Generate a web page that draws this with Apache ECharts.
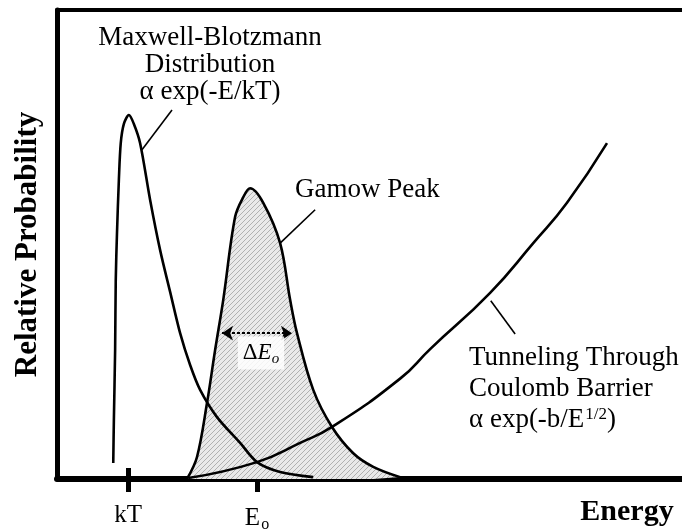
<!DOCTYPE html>
<html>
<head>
<meta charset="utf-8">
<script src="https://cdn.jsdelivr.net/npm/echarts@6/dist/echarts.min.js"></script>
<style>
  html, body { margin: 0; padding: 0; background: #fff; }
  #gamow { width: 682px; height: 532px; }
</style>
</head>
<body>
<div id="gamow"></div>
<script>
  // energy (arbitrary units 0-100) and relative probability (0-100)
  const mbEnergy = [9.0, 9.1, 9.3, 9.4, 9.6, 9.9, 10.2, 10.7, 11.5, 12.3, 13.3, 14.9, 16.5, 18.1, 19.7, 21.3, 22.9, 25.6, 29.3, 32.0, 35.7, 41.0];
  const mbProb = [3.4, 12.6, 27.5, 42.4, 52.5, 63.8, 71.6, 75.7, 77.6, 75.7, 71.6, 59.5, 48.8, 39.9, 31.1, 24.3, 19.0, 13.2, 7.7, 3.6, 1.5, 0.4];

  const gamowEnergy = [20.8, 22.4, 24.0, 25.3, 26.6, 28.5, 29.8, 30.9, 33.0, 35.7, 37.3, 38.4, 41.0, 44.0, 47.4, 50.6, 54.9];
  const gamowProb = [0, 4.7, 16.2, 27.5, 38.2, 55.9, 60.1, 62.0, 58.9, 50.3, 38.2, 31.1, 19.0, 11.1, 5.5, 2.6, 0.4];

  const tunnelEnergy = [21.0, 32.0, 38.9, 44.0, 54.9, 59.7, 69.3, 76.2, 81.6, 88.0];
  const tunnelProb = [0.2, 3.6, 7.7, 11.1, 21.4, 27.7, 39.7, 50.3, 58.9, 71.6];

  const tickValues = [11.4, 32.0];
  const tickLabels = ['kT', '{e|E}{o|o}'];

  const serif = '"Liberation Serif", "DejaVu Serif", serif';

  function zip(xs, ys) {
    return xs.map((x, i) => [x, ys[i]]);
  }

  // light hatched fill for the gamow peak
  const pat = document.createElement('canvas');
  pat.width = 5;
  pat.height = 5;
  const pctx = pat.getContext('2d');
  pctx.fillStyle = '#e9e9e9';
  pctx.fillRect(0, 0, 5, 5);
  pctx.strokeStyle = '#b0b0b0';
  pctx.lineWidth = 1;
  pctx.beginPath();
  pctx.moveTo(0, 5);
  pctx.lineTo(5, 0);
  pctx.stroke();

  const chart = echarts.init(document.getElementById('gamow'));

  const curveLine = { color: '#000', width: 2.6 };

  chart.setOption({
    animation: false,
    grid: { left: 57, right: 0, top: 10, bottom: 53, outerBoundsMode: 'none' },
    xAxis: [
      {
        type: 'value',
        min: 0,
        max: 100,
        position: 'bottom',
        axisLine: { onZero: false, lineStyle: { color: '#000', width: 6 } },
        axisTick: { customValues: tickValues, length: 13, lineStyle: { color: '#000', width: 5 } },
        axisLabel: {
          customValues: tickValues,
          margin: 24,
          color: '#000',
          fontFamily: serif,
          fontSize: 25,
          formatter: v => tickLabels[tickValues.indexOf(v)],
          rich: {
            e: { fontFamily: serif, fontSize: 25, color: '#000' },
            o: { fontFamily: serif, fontSize: 16, color: '#000', padding: [14, 0, 0, 1] }
          }
        },
        splitLine: { show: false }
      },
      {
        // inner half of the crossing ticks
        type: 'value',
        min: 0,
        max: 100,
        position: 'bottom',
        axisLine: { show: false, onZero: false },
        axisTick: { customValues: tickValues, inside: true, length: 11, lineStyle: { color: '#000', width: 5 } },
        axisLabel: { show: false },
        splitLine: { show: false }
      },
      {
        type: 'value',
        min: 0,
        max: 100,
        position: 'top',
        axisLine: { onZero: false, lineStyle: { color: '#000', width: 4 } },
        axisTick: { show: false },
        axisLabel: { show: false },
        splitLine: { show: false }
      }
    ],
    yAxis: {
      type: 'value',
      min: 0,
      max: 100,
      name: 'Relative Probability',
      nameLocation: 'middle',
      nameGap: 14,
      nameTextStyle: { color: '#000', fontFamily: serif, fontSize: 31, fontWeight: 'bold' },
      axisLine: { onZero: false, lineStyle: { color: '#000', width: 5 } },
      axisTick: { show: false },
      axisLabel: { show: false },
      splitLine: { show: false }
    },
    series: [
      {
        name: 'Gamow Peak',
        type: 'line',
        data: zip(gamowEnergy, gamowProb),
        smooth: 0.35,
        showSymbol: false,
        lineStyle: curveLine,
        areaStyle: { color: { image: pat, repeat: 'repeat' }, opacity: 1 },
        markLine: {
          silent: true,
          symbol: ['arrow', 'arrow'],
          symbolSize: [11, 11],
          label: { show: false },
          lineStyle: { color: '#000', width: 2, type: [3, 2] },
          data: [[{ coord: [26.4, 31.1] }, { coord: [37.6, 31.1] }]]
        },
        z: 2
      },
      {
        name: 'Maxwell-Blotzmann',
        type: 'line',
        data: zip(mbEnergy, mbProb),
        smooth: 0.3,
        showSymbol: false,
        lineStyle: curveLine,
        markLine: {
          silent: true,
          symbol: 'none',
          label: { show: false },
          lineStyle: { color: '#000', width: 1.6, type: 'solid' },
          data: [
            [{ coord: [13.6, 70.2] }, { coord: [18.4, 78.7] }],
            [{ coord: [35.7, 50.3] }, { coord: [41.3, 57.4] }],
            [{ coord: [69.4, 38.0] }, { coord: [73.3, 30.9] }]
          ]
        },
        z: 3
      },
      {
        name: 'Tunneling',
        type: 'line',
        data: zip(tunnelEnergy, tunnelProb),
        smooth: 0.5,
        showSymbol: false,
        lineStyle: curveLine,
        z: 3
      }
    ],
    graphic: [
      {
        type: 'text', x: 210, y: 24, z: 10,
        style: {
          text: 'Maxwell-Blotzmann\nDistribution\nα exp(-E/kT)',
          align: 'center', verticalAlign: 'top',
          font: '27px ' + serif, lineHeight: 27, fill: '#000'
        }
      },
      {
        type: 'text', x: 295, y: 190, z: 10,
        style: { text: 'Gamow Peak', align: 'left', verticalAlign: 'middle', font: '27px ' + serif, fill: '#000' }
      },
      {
        type: 'text', x: 469, y: 342, z: 10,
        style: {
          text: 'Tunneling Through\nCoulomb Barrier\n{t|α exp(-b/E}{s|1/2}{t|)}',
          align: 'left', verticalAlign: 'top',
          font: '27px ' + serif, lineHeight: 31, fill: '#000',
          rich: {
            t: { fontFamily: serif, fontSize: 27, fill: '#000' },
            s: { fontFamily: serif, fontSize: 17, fill: '#000', padding: [0, 0, 10, 1] }
          }
        }
      },
      {
        type: 'text', x: 261, y: 353, z: 10,
        style: {
          text: '{d|Δ}{e|E}{o|o}',
          align: 'center', verticalAlign: 'middle',
          backgroundColor: 'rgba(255,255,255,0.85)', padding: [3, 5],
          rich: {
            d: { fontFamily: serif, fontSize: 23, fill: '#000' },
            e: { fontFamily: serif, fontSize: 23, fontStyle: 'italic', fill: '#000' },
            o: { fontFamily: serif, fontSize: 15, fontStyle: 'italic', fill: '#000', padding: [12, 0, 0, 0] }
          }
        }
      },
      {
        type: 'text', x: 627, y: 512, z: 10,
        style: { text: 'Energy', align: 'center', verticalAlign: 'middle', font: 'bold 30px ' + serif, fill: '#000' }
      }
    ]
  });
</script>
</body>
</html>
